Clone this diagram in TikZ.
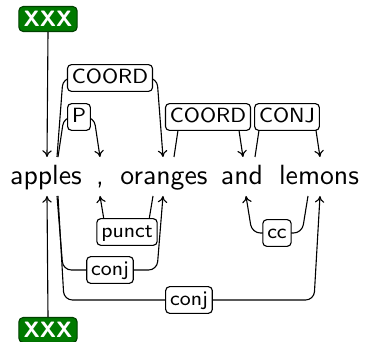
\documentclass[tikz,border=0pt]{standalone}
\usetikzlibrary{calc,arrows.meta}
\begin{document}
\begin{tikzpicture}[x=0.36pt,y=-0.36pt,
  word/.style={font=\sffamily\fontsize{10}{12}\selectfont,anchor=base,inner sep=0pt},
  deplabel/.style={draw,fill=white,rounded corners=1.4pt,line width=0.4pt,
    font=\sffamily\fontsize{7.4}{9}\selectfont,inner xsep=1.6pt,inner ysep=1.3pt,
    text height=5.4pt,text depth=1.6pt},
  rootbox/.style={draw=green!25!black,fill=green!48!black,rounded corners=1.6pt,
    text=white,font=\sffamily\bfseries\fontsize{8}{9}\selectfont,
    minimum width=21pt,minimum height=9pt,inner sep=1pt},
  dep/.style={line width=0.4pt,rounded corners=3pt,-{To[length=2.4pt,width=3.4pt]}},
  rootedge/.style={line width=0.4pt,-{To[length=2.4pt,width=3.4pt]}}]
\useasboundingbox (0,0) rectangle (367,342);
% words
\node[word] (apples) at (46,185) {apples};
\node[word] (comma) at (100,185) {,};
\node[word] (oranges) at (164,185) {oranges};
\node[word] (and) at (242,185) {and};
\node[word] (lemons) at (319,185) {lemons};
% anchor points above words
\coordinate (apTa) at (57,157);
\coordinate (apTb) at (58,157);
\coordinate (apTr) at (47,157);
\coordinate (coT) at (100,157);
\coordinate (orTin) at (163,157);
\coordinate (orTout) at (174,157);
\coordinate (anTin) at (243,157);
\coordinate (anTout) at (255,157);
\coordinate (leTin) at (320,157);
% anchor points below words
\coordinate (apBa) at (57,196);
\coordinate (apBb) at (58,196);
\coordinate (apBr) at (47,196);
\coordinate (coB) at (100,196);
\coordinate (orBout) at (153,196);
\coordinate (orBin) at (163,196);
\coordinate (anBin) at (246,196);
\coordinate (leBout) at (308,196);
\coordinate (leBin) at (320,196);
% root boxes
\node[rootbox] (rtop) at (48,19) {XXX};
\node[rootbox] (rbot) at (48,330) {XXX};
% label positions
\coordinate (LcoordA) at (110,78);
\coordinate (Lp) at (79,117);
\coordinate (LcoordB) at (208,117);
\coordinate (Lconj) at (287,117);
\coordinate (Lpunct) at (127,232);
\coordinate (LconjA) at (110,270);
\coordinate (LconjB) at (189,300);
\coordinate (Lcc) at (277,233);
% edges above
\draw[dep] (apTa) -- ($(apTa |- LcoordA)+(6,0)$) -- ($(orTin |- LcoordA)+(-6,0)$) -- (orTin);
\draw[dep] (apTb) -- ($(apTb |- Lp)+(6,0)$) -- ($(coT |- Lp)+(-6,0)$) -- (coT);
\draw[dep] (orTout) -- ($(orTout |- LcoordB)+(6,0)$) -- ($(anTin |- LcoordB)+(-6,0)$) -- (anTin);
\draw[dep] (anTout) -- ($(anTout |- Lconj)+(6,0)$) -- ($(leTin |- Lconj)+(-6,0)$) -- (leTin);
% edges below
\draw[dep] (orBout) -- ($(orBout |- Lpunct)+(-6,0)$) -- ($(coB |- Lpunct)+(6,0)$) -- (coB);
\draw[dep] (apBa) -- ($(apBa |- LconjA)+(6,0)$) -- ($(orBin |- LconjA)+(-6,0)$) -- (orBin);
\draw[dep] (apBb) -- ($(apBb |- LconjB)+(6,0)$) -- ($(leBin |- LconjB)+(-6,0)$) -- (leBin);
\draw[dep] (leBout) -- ($(leBout |- Lcc)+(-6,0)$) -- ($(anBin |- Lcc)+(6,0)$) -- (anBin);
% root edges
\draw[rootedge] (rtop.south) -- (apTr);
\draw[rootedge] (rbot.north) -- (apBr);
% labels
\node[deplabel] (lab1) at (LcoordA) {COORD};
\node[deplabel] (lab2) at (Lp) {P};
\node[deplabel] (lab3) at (LcoordB) {COORD};
\node[deplabel] (lab4) at (Lconj) {CONJ};
\node[deplabel] (lab5) at (Lpunct) {punct};
\node[deplabel] (lab6) at (LconjA) {conj};
\node[deplabel] (lab7) at (LconjB) {conj};
\node[deplabel] (lab8) at (Lcc) {cc};
\end{tikzpicture}
\end{document}
